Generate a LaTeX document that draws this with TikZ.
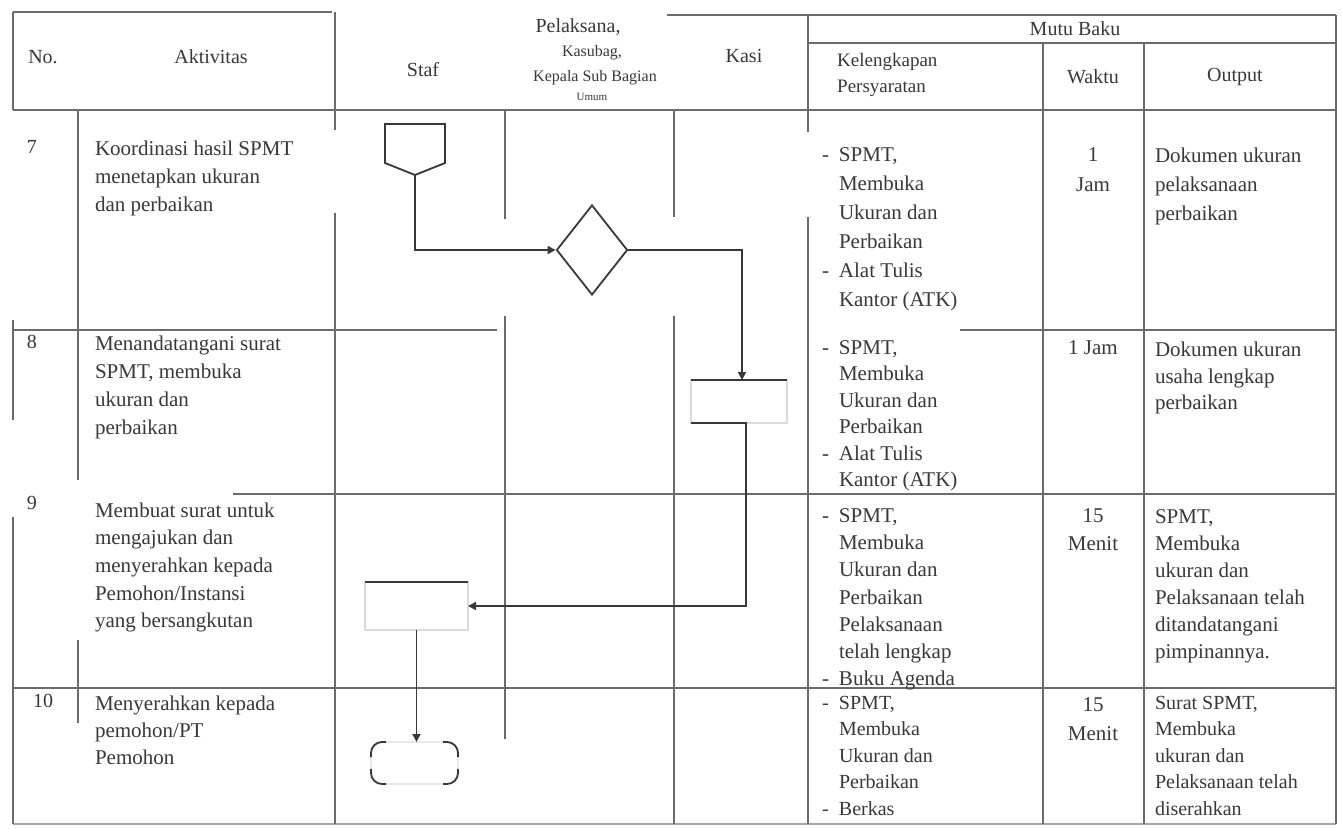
\documentclass[tikz,border=0pt]{standalone}
\usepackage{fontspec}
\setmainfont{Liberation Serif}
\usetikzlibrary{shapes.geometric,arrows.meta,calc}
\newcommand{\kdash}[1]{\makebox[17pt][l]{-}#1}
\newcommand{\kind}[1]{\hspace*{17pt}#1}
\begin{document}
\begin{tikzpicture}[x=1pt,y=-1pt,
  grid/.style={line width=1.6pt,draw=black!58},
  conn/.style={line width=1.8pt,draw=black!78},
  arr/.style={conn,-{Triangle[length=8pt,width=8pt]}},
  faint/.style={line width=1.2pt,draw=black!14},
  cell/.style={font=\fontsize{21}{28}\selectfont,inner sep=0pt,outer sep=0pt,align=left,anchor=north west,text=black!78},
  ccell/.style={cell,align=center,anchor=north},
  hd/.style={font=\fontsize{20}{26}\selectfont,inner sep=0pt,text=black!78},
  hds/.style={hd,font=\fontsize{16}{18}\selectfont},
]
\useasboundingbox (0,0) rectangle (1342,828);

% ---------- table grid (as printed, with the scan's breaks) ----------
\draw[grid] (13,12) -- (332,12);
\draw[grid] (667,15) -- (1336,15);
\draw[grid] (808,43) -- (1336,43);
\draw[grid] (13,110) -- (1336,110);
\draw[grid] (13,330) -- (497,330);
\draw[grid] (960,330) -- (1336,330);
\draw[grid] (233,494) -- (1336,494);
\draw[grid] (13,688) -- (1336,688);
\draw[grid,draw=black!35] (13,824) -- (1336,824);
% verticals
\draw[grid] (13,12) -- (13,110);
\draw[grid] (13,320) -- (13,420);
\draw[grid] (13,517) -- (13,824);
\draw[grid] (78,110) -- (78,480);
\draw[grid] (78,640) -- (78,723);
\draw[grid] (335,12) -- (335,130);
\draw[grid] (335,213) -- (335,824);
\draw[grid] (505,110) -- (505,219);
\draw[grid] (505,316) -- (505,739);
\draw[grid] (674,110) -- (674,217);
\draw[grid] (674,316) -- (674,824);
\draw[grid] (808,15) -- (808,132);
\draw[grid] (808,217) -- (808,824);
\draw[grid] (1043,43) -- (1043,824);
\draw[grid] (1144,43) -- (1144,824);
\draw[grid] (1336,15) -- (1336,824);

% ---------- header ----------
\node[hd] (hno) at (43,57) {No.};
\node[hd] (hakt) at (211,57) {Aktivitas};
\node[hd] (hstaf) at (423,70) {Staf};
\node[hd] (hpel) at (578,27) {Pelaksana,};
\node[hds] (hkas) at (592,53) {Kasubag,};
\node[hds] (hkep) at (595,78) {Kepala Sub Bagian};
\node[hd,font=\fontsize{11}{13}\selectfont] (humum) at (592,97) {Umum};
\node[hd] (hkasi) at (744,56) {Kasi};
\node[hd] (hmutu) at (1075,29) {Mutu Baku};
\node[hd,align=left,anchor=west,font=\fontsize{19}{26}\selectfont] (hkel) at (837,75) {Kelengkapan\\Persyaratan};
\node[hd] (hwaktu) at (1093,77) {Waktu};
\node[hd] (hout) at (1235,77) {Output};

% ---------- row numbers ----------
\node[hd] (n7) at (32,147) {7};
\node[hd] (n8) at (32,342) {8};
\node[hd] (n9) at (32,503) {9};
\node[hd] (n10) at (43,701) {10};

% ---------- row 7 ----------
\node[cell] (a7) at (95,140.5) {Koordinasi hasil SPMT\\menetapkan ukuran\\dan perbaikan};
\node[cell,font=\fontsize{21}{29}\selectfont] (k7) at (822,147.5) {\kdash{SPMT,}\\\kind{Membuka}\\\kind{Ukuran dan}\\\kind{Perbaikan}\\\kdash{Alat Tulis}\\\kind{Kantor (ATK)}};
\node[ccell,font=\fontsize{21}{30}\selectfont] (w7) at (1093,147.5) {1\\Jam};
\node[cell,font=\fontsize{21}{29}\selectfont] (o7) at (1155,147.5) {Dokumen ukuran\\pelaksanaan\\perbaikan};

% ---------- row 8 ----------
\node[cell] (a8) at (95,335.5) {Menandatangani surat\\SPMT, membuka\\ukuran dan\\perbaikan};
\node[cell,font=\fontsize{21}{26.5}\selectfont] (k8) at (822,340.5) {\kdash{SPMT,}\\\kind{Membuka}\\\kind{Ukuran dan}\\\kind{Perbaikan}\\\kdash{Alat Tulis}\\\kind{Kantor (ATK)}};
\node[ccell] (w8) at (1093,340.5) {1 Jam};
\node[cell,font=\fontsize{21}{26.5}\selectfont] (o8) at (1155,342) {Dokumen ukuran\\usaha lengkap\\perbaikan};

% ---------- row 9 ----------
\node[cell,font=\fontsize{21}{27.7}\selectfont] (a9) at (95,502.5) {Membuat surat untuk\\mengajukan dan\\menyerahkan kepada\\Pemohon/Instansi\\yang bersangkutan};
\node[cell,font=\fontsize{21}{27.2}\selectfont] (k9) at (822,508.5) {\kdash{SPMT,}\\\kind{Membuka}\\\kind{Ukuran dan}\\\kind{Perbaikan}\\\kind{Pelaksanaan}\\\kind{telah lengkap}\\\kdash{Buku Agenda}};
\node[ccell] (w9) at (1093,508.5) {15\\Menit};
\node[cell,font=\fontsize{21}{27}\selectfont] (o9) at (1155,510) {SPMT,\\Membuka\\ukuran dan\\Pelaksanaan telah\\ditandatangani\\pimpinannya.};

% ---------- row 10 ----------
\node[cell,font=\fontsize{21}{27}\selectfont] (a10) at (95,695.5) {Menyerahkan kepada\\pemohon/PT\\Pemohon};
\node[cell,font=\fontsize{20}{26.5}\selectfont] (k10) at (822,696) {\kdash{SPMT,}\\\kind{Membuka}\\\kind{Ukuran dan}\\\kind{Perbaikan}\\\kdash{Berkas}};
\node[ccell,font=\fontsize{21}{29}\selectfont] (w10) at (1093,697.5) {15\\Menit};
\node[cell,font=\fontsize{20}{26.5}\selectfont] (o10) at (1155,696) {Surat SPMT,\\Membuka\\ukuran dan\\Pelaksanaan telah\\diserahkan};

% ---------- flow symbols ----------
\draw[conn] (385,124) -- (445,124) -- (445,163) -- (415,175) -- (385,163) -- cycle;
\coordinate (pent) at (415,175);
\node[diamond,draw=black!78,line width=1.8pt,minimum width=71pt,minimum height=90pt,inner sep=0pt] (dec) at (592,250) {};
\node[minimum width=96pt,minimum height=43pt,inner sep=0pt,outer sep=0pt] (kasi) at (739,401.5) {};
\node[minimum width=103pt,minimum height=48pt,inner sep=0pt,outer sep=0pt] (staf) at (416.5,606) {};
\node[minimum width=87pt,minimum height=42pt,inner sep=0pt,outer sep=0pt] (term) at (414.5,763) {};

\draw[faint] (kasi.north west) rectangle (kasi.south east);
\draw[faint] (staf.north west) rectangle (staf.south east);
\draw[faint,rounded corners=11pt] (term.north west) rectangle (term.south east);
\draw[conn] (kasi.north west) -- (kasi.north east);
\draw[conn] (kasi.south west) -- ([xshift=8pt]kasi.south);
\draw[conn] (staf.north west) -- (staf.north east);
\draw[conn,rounded corners=11pt] ([yshift=-15pt]term.north west) -- (term.north west) -- ([xshift=15pt]term.north west);
\draw[conn,rounded corners=11pt] ([xshift=-15pt]term.north east) -- (term.north east) -- ([yshift=-15pt]term.north east);
\draw[conn,rounded corners=11pt] ([yshift=15pt]term.south east) -- (term.south east) -- ([xshift=-15pt]term.south east);
\draw[conn,rounded corners=11pt] ([xshift=15pt]term.south west) -- (term.south west) -- ([yshift=15pt]term.south west);

% ---------- connectors ----------
\draw[arr] (pent) |- (dec.west);
\draw[arr] (dec.east) -| ([xshift=3pt]kasi.north);
\draw[arr] ([xshift=7pt]kasi.south) |- (staf.east);
\draw[arr] (staf.south) -- (staf.south |- term.north);
\end{tikzpicture}
\end{document}
